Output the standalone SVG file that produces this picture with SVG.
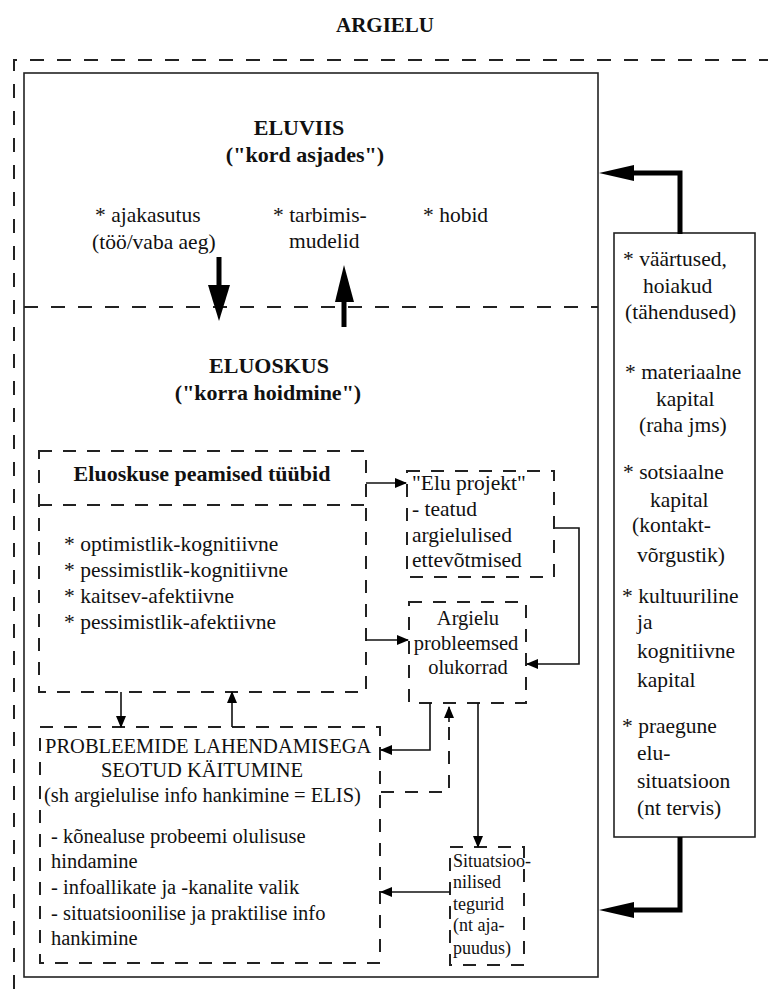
<svg xmlns="http://www.w3.org/2000/svg" width="768" height="989" viewBox="0 0 768 989">
<style>
text{font-family:"Liberation Serif","Times New Roman",serif;fill:#111}
.b{font-weight:bold}
.t{font-size:21.5px}
.p{font-size:20.5px}
.s{font-size:18px}
.h{font-size:22px;font-weight:bold}
.c{text-anchor:middle}
.dash{fill:none;stroke:#222;stroke-width:2;stroke-dasharray:13 11}
.dbig{fill:none;stroke:#222;stroke-width:2;stroke-dasharray:14 13}
.solid{fill:none;stroke:#222;stroke-width:1.6}
.thin{fill:none;stroke:#111;stroke-width:1.6}
.thick{fill:none;stroke:#000;stroke-width:5}
.head{fill:#000}
</style>
<defs>
<marker id="ah" markerWidth="12" markerHeight="10" refX="11" refY="5" orient="auto" markerUnits="userSpaceOnUse">
<path d="M0,0 L12,5 L0,10 z" fill="#000"/>
</marker>
</defs>

<text x="385" y="32" class="b c" font-size="21">ARGIELU</text>

<g id="frame">
<path class="dbig" d="M14,989 V60 H768"/>
<rect class="solid" x="24" y="73" width="574" height="904"/>
<path class="dbig" d="M24,307 H598"/>
</g>

<g id="eluviis">
<text x="299" y="135" class="h c">ELUVIIS</text>
<text x="305" y="162" class="h c">("kord asjades")</text>
<text x="95" y="222" class="t">* ajakasutus</text>
<text x="92" y="249" class="t">(töö/vaba aeg)</text>
<text x="273" y="222" class="t">* tarbimis-</text>
<text x="289" y="248" class="t">mudelid</text>
<text x="423" y="222" class="t">* hobid</text>
</g>

<g id="eluoskus">
<text x="269" y="373" class="h c">ELUOSKUS</text>
<text x="268" y="400" class="h c">("korra hoidmine")</text>
</g>

<g id="tyybid">
<rect class="dash" x="39" y="451" width="327" height="241"/>
<path class="dash" d="M39,505 H366"/>
<text x="202" y="481" class="h c">Eluoskuse peamised tüübid</text>
<text x="64" y="551" class="t">* optimistlik-kognitiivne</text>
<text x="64" y="577" class="t">* pessimistlik-kognitiivne</text>
<text x="64" y="603" class="t">* kaitsev-afektiivne</text>
<text x="64" y="629" class="t">* pessimistlik-afektiivne</text>
</g>

<g id="eluprojekt">
<rect class="dash" x="407" y="471" width="147" height="106"/>
<text x="412" y="490" class="t">"Elu projekt"</text>
<text x="412" y="516" class="t">- teatud</text>
<text x="412" y="542" class="t">argielulised</text>
<text x="412" y="567" class="t">ettevõtmised</text>
</g>

<g id="argielu">
<rect class="dash" x="409" y="602" width="117" height="101"/>
<text x="468" y="625" class="c" font-size="20.5">Argielu</text>
<text x="466" y="650" class="c" font-size="20.5">probleemsed</text>
<text x="468" y="674" class="c" font-size="20.5">olukorrad</text>
</g>

<g id="probleemid">
<rect class="dash" x="40" y="727" width="340" height="236"/>
<text x="45" y="753" class="p">PROBLEEMIDE LAHENDAMISEGA</text>
<text x="202" y="777" class="p c">SEOTUD KÄITUMINE</text>
<text x="44" y="802" class="p">(sh argielulise info hankimine = ELIS)</text>
<text x="51" y="843" class="p">- kõnealuse probeemi olulisuse</text>
<text x="51" y="868" class="p">hindamine</text>
<text x="51" y="894" class="p">- infoallikate ja -kanalite valik</text>
<text x="51" y="920" class="p">- situatsioonilise ja praktilise info</text>
<text x="51" y="945" class="p">hankimine</text>
</g>

<g id="situatsioon">
<rect class="dash" x="450" y="847" width="74" height="118"/>
<text x="453" y="867" class="s">Situatsioo-</text>
<text x="453" y="888" class="s">nilised</text>
<text x="453" y="910" class="s">tegurid</text>
<text x="453" y="931" class="s">(nt aja-</text>
<text x="453" y="954" class="s">puudus)</text>
</g>

<g id="ressursid">
<rect class="solid" x="614" y="233" width="141" height="604"/>
<text x="623" y="266" class="t">* väärtused,</text>
<text x="643" y="293" class="t">hoiakud</text>
<text x="625" y="319" class="t">(tähendused)</text>
<text x="625" y="379" class="t">* materiaalne</text>
<text x="656" y="406" class="t">kapital</text>
<text x="639" y="432" class="t">(raha jms)</text>
<text x="623" y="479" class="t">* sotsiaalne</text>
<text x="650" y="507" class="t">kapital</text>
<text x="632" y="532" class="t">(kontakt-</text>
<text x="637" y="562" class="t">võrgustik)</text>
<text x="622" y="603" class="t">* kultuuriline</text>
<text x="637" y="629" class="t">ja</text>
<text x="637" y="658" class="t">kognitiivne</text>
<text x="637" y="687" class="t">kapital</text>
<text x="622" y="733" class="t">* praegune</text>
<text x="637" y="760" class="t">elu-</text>
<text x="637" y="788" class="t">situatsioon</text>
<text x="637" y="815" class="t">(nt tervis)</text>
</g>

<g id="connectors">
<path class="thick" d="M680,234 V173 H632"/>
<path class="head" d="M599,173 L634,165 L634,181 z"/>
<path class="thick" d="M680,837 V910 H632"/>
<path class="head" d="M599,910 L634,902 L634,918 z"/>
<path class="thick" d="M219,257 V288"/>
<path class="head" d="M208,285 L230,285 L219,321 z"/>
<path class="thick" d="M344,300 V327"/>
<path class="head" d="M335,302 L354,302 L344,265 z"/>
<path class="thin" d="M121,692 V727" marker-end="url(#ah)"/>
<path class="thin" d="M232,727 V692" marker-end="url(#ah)"/>
<path class="thin" d="M366,483 H406" marker-end="url(#ah)"/>
<path class="thin" d="M366,640 H408" marker-end="url(#ah)"/>
<path class="thin" d="M555,528 H579 V664 H527" marker-end="url(#ah)"/>
<path class="thin" d="M430,703 V750 H381" marker-end="url(#ah)"/>
<path class="dash" d="M381,792 H449 V720"/>
<path class="thin" d="M449,722 V707" marker-end="url(#ah)"/>
<path class="thin" d="M478,703 V847" marker-end="url(#ah)"/>
<path class="thin" d="M450,892 H381" marker-end="url(#ah)"/>
</g>
</svg>
